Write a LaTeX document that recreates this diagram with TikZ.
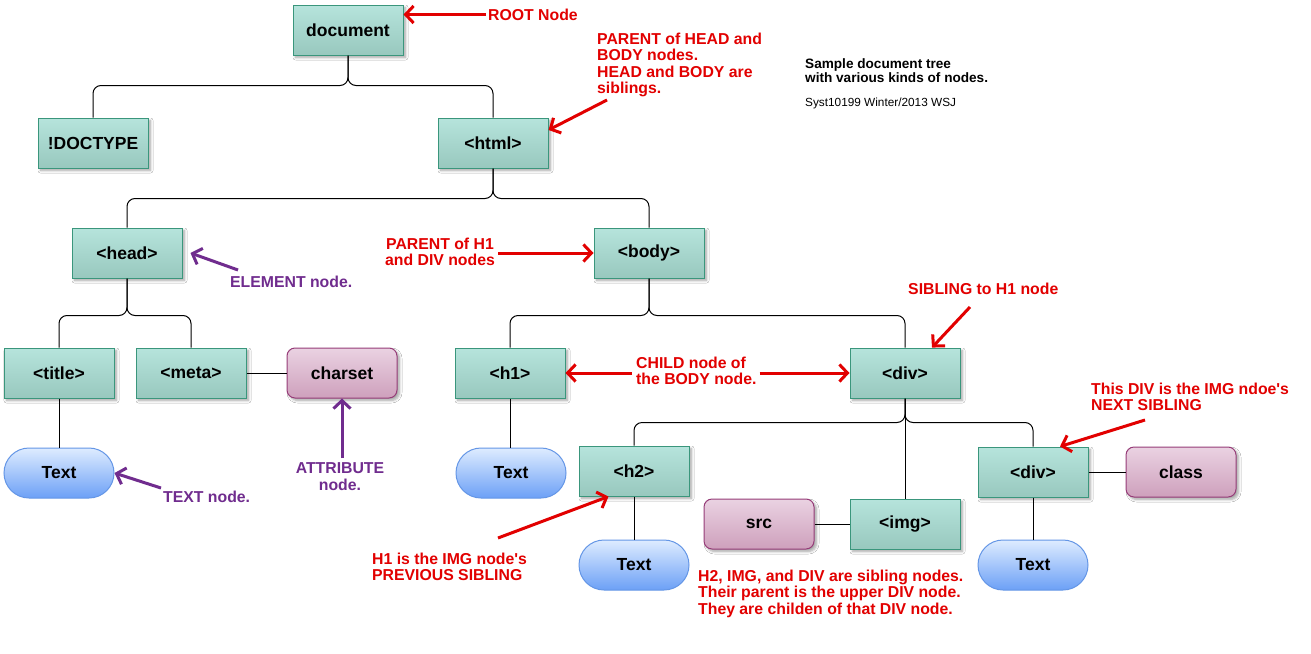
\documentclass[tikz,border=0pt]{standalone}
\usepackage{fontspec}
\setmainfont{Liberation Sans}
\usetikzlibrary{arrows.meta,shapes.misc,shadows.blur}
\definecolor{elemtop}{RGB}{182,228,220}
\definecolor{elembot}{RGB}{152,200,190}
\definecolor{elemline}{RGB}{58,150,124}
\definecolor{attrtop}{RGB}{234,210,226}
\definecolor{attrbot}{RGB}{206,160,188}
\definecolor{attrline}{RGB}{150,60,120}
\definecolor{txttop}{RGB}{222,236,255}
\definecolor{txtbot}{RGB}{108,160,246}
\definecolor{txtline}{RGB}{100,150,230}
\definecolor{annred}{RGB}{226,0,0}
\definecolor{annpurple}{RGB}{112,44,142}
\begin{document}
\begin{tikzpicture}[x=1pt,y=-1pt,
  nodefont/.style={font=\fontsize{17.5}{19}\selectfont\bfseries},
  shad/.style={blur shadow={shadow xshift=2.5pt,shadow yshift=-2.5pt,shadow blur radius=2.5pt,shadow blur steps=6,shadow opacity=35}},
  elem/.style={rectangle,draw=elemline,line width=1pt,top color=elemtop,bottom color=elembot,
    minimum width=110pt,minimum height=50pt,inner sep=0pt,nodefont,shad},
  attr/.style={rectangle,rounded corners=8pt,draw=attrline,line width=1pt,top color=attrtop,bottom color=attrbot,
    minimum width=110pt,minimum height=50pt,inner sep=0pt,nodefont,shad},
  txt/.style={rounded rectangle,draw=txtline,line width=1pt,top color=txttop,bottom color=txtbot,
    minimum width=110pt,minimum height=50pt,inner sep=0pt,nodefont},
  conn/.style={draw=black,line width=1pt,rounded corners=8pt},
  ann/.style={font=\fontsize{15.8}{16.5}\selectfont\bfseries,text=annred,inner sep=0pt,align=left,anchor=north west},
  annp/.style={ann,text=annpurple},
  arr/.style={draw=annred,line width=3pt,-{Straight Barb[length=8pt,width=17pt]}},
  arrp/.style={arr,draw=annpurple},
]
\useasboundingbox (0,0) rectangle (1311,653);
\fill[white] (0,0) rectangle (1311,653);

% element nodes
\node[elem] (doc) at (348,30) {document};
\node[elem] (doctype) at (93,143) {!DOCTYPE};
\node[elem] (html) at (493,143) {<html>};
\node[elem] (head) at (127,253) {<head>};
\node[elem] (body) at (649,253) {<body>};
\node[elem] (title) at (59,373) {<title>};
\node[elem] (meta) at (191,373) {<meta>};
\node[attr] (charset) at (342,373) {charset};
\node[txt] (t1) at (59,473) {Text};
\node[elem] (h1) at (510,373) {<h1>};
\node[elem] (div) at (905,373) {<div>};
\node[txt] (t2) at (511,473) {Text};
\node[elem] (h2) at (634,471) {<h2>};
\node[attr] (src) at (759,524) {src};
\node[elem] (img) at (905,524) {<img>};
\node[elem] (div2) at (1033,472) {<div>};
\node[attr] (class) at (1181,472) {class};
\node[txt] (t3) at (634,565) {Text};
\node[txt] (t4) at (1033,565) {Text};

% tree connectors
\draw[conn] (doc.south) -- ++(0,30) -| (doctype.north);
\draw[conn] (doc.south) -- ++(0,30) -| (html.north);
\draw[conn] (html.south) -- ++(0,30) -| (head.north);
\draw[conn] (html.south) -- ++(0,30) -| (body.north);
\draw[conn] (head.south) -- ++(0,37) -| (title.north);
\draw[conn] (head.south) -- ++(0,37) -| (meta.north);
\draw[conn] (body.south) -- ++(0,37) -| (h1.north);
\draw[conn] (body.south) -- ++(0,37) -| (div.north);
\draw[conn] (div.south) -- ++(0,24) -| (h2.north);
\draw[conn] (div.south) -- ++(0,24) -| (div2.north);
\draw[conn] (div.south) -- (img.north);
\draw[conn] (title.south) -- (t1.north);
\draw[conn] (h1.south) -- (h1.south |- t2.north);
\draw[conn] (h2.south) -- (t3.north);
\draw[conn] (div2.south) -- (t4.north);
\draw[conn] (meta.east) -- (charset.west);
\draw[conn] (src.east) -- (img.west);
\draw[conn] (div2.east) -- (class.west);

% notes
\node[inner sep=0pt,anchor=north west,align=left,font=\fontsize{13.6}{14}\selectfont\bfseries] (sample) at (805,58) {Sample document tree\\with various kinds of nodes.};
\node[inner sep=0pt,anchor=north west,font=\fontsize{11.8}{13}\selectfont] (syst) at (805,97.5) {Syst10199 Winter/2013 WSJ};

% annotations
\node[ann] (rootlbl) at (488,8.5) {ROOT Node};
\node[ann] (p2lbl) at (597,32.5) {PARENT of HEAD and\\BODY nodes.\\HEAD and BODY are\\siblings.};
\node[ann,align=center,anchor=north] (p1lbl) at (440,237.5) {PARENT of H1\\ and DIV nodes};
\node[annp] (ellbl) at (230,275.5) {ELEMENT node.};
\node[ann] (sibl) at (908,282.5) {SIBLING to H1 node};
\node[ann] (childlbl) at (636,356.5) {CHILD node of\\the BODY node.};
\node[ann] (nextlbl) at (1091,382.5) {This DIV is the IMG ndoe\textquotesingle s\\NEXT SIBLING};
\node[annp] (textlbl) at (163,490.5) {TEXT node.};
\node[annp,align=center,anchor=north] (attrlbl) at (340,462.5) {ATTRIBUTE\\node.};
\node[ann] (prevlbl) at (372,552.5) {H1 is the IMG node\textquotesingle s\\PREVIOUS SIBLING};
\node[ann] (siblbl) at (698,569.5) {H2, IMG, and DIV are sibling nodes.\\Their parent is the upper DIV node.\\They are childen of that DIV node.};

% annotation arrow start points
\coordinate (p2s) at (607,100);
\coordinate (els) at (238,270);
\coordinate (sibs) at (970,307);
\coordinate (nexts) at (1145,420);
\coordinate (texts) at (161,488);
\coordinate (attrs) at (342,458);
\coordinate (prevs) at (498,538);

% annotation arrows
\draw[arr] ([xshift=-2pt]rootlbl.west) -- (doc.east |- rootlbl.west);
\draw[arr] (p2s) -- ([yshift=13pt]html.east);
\draw[arr] ([xshift=3pt]p1lbl.east |- body.west) -- (body.west);
\draw[arrp] (els) -- ([xshift=8pt]head.east);
\draw[arr] (sibs) -- ([xshift=27pt]div.north);
\draw[arr] ([xshift=-4pt]childlbl.west |- h1.east) -- (h1.east);
\draw[arr] ([xshift=3pt]childlbl.east |- div.west) -- (div.west);
\draw[arr] (nexts) -- ([xshift=27pt]div2.north);
\draw[arrp] (texts) -- (t1.east);
\draw[arrp] (attrs) -- (charset.south);
\draw[arr] (prevs) -- ([xshift=30pt]h2.south west);
\end{tikzpicture}
\end{document}
